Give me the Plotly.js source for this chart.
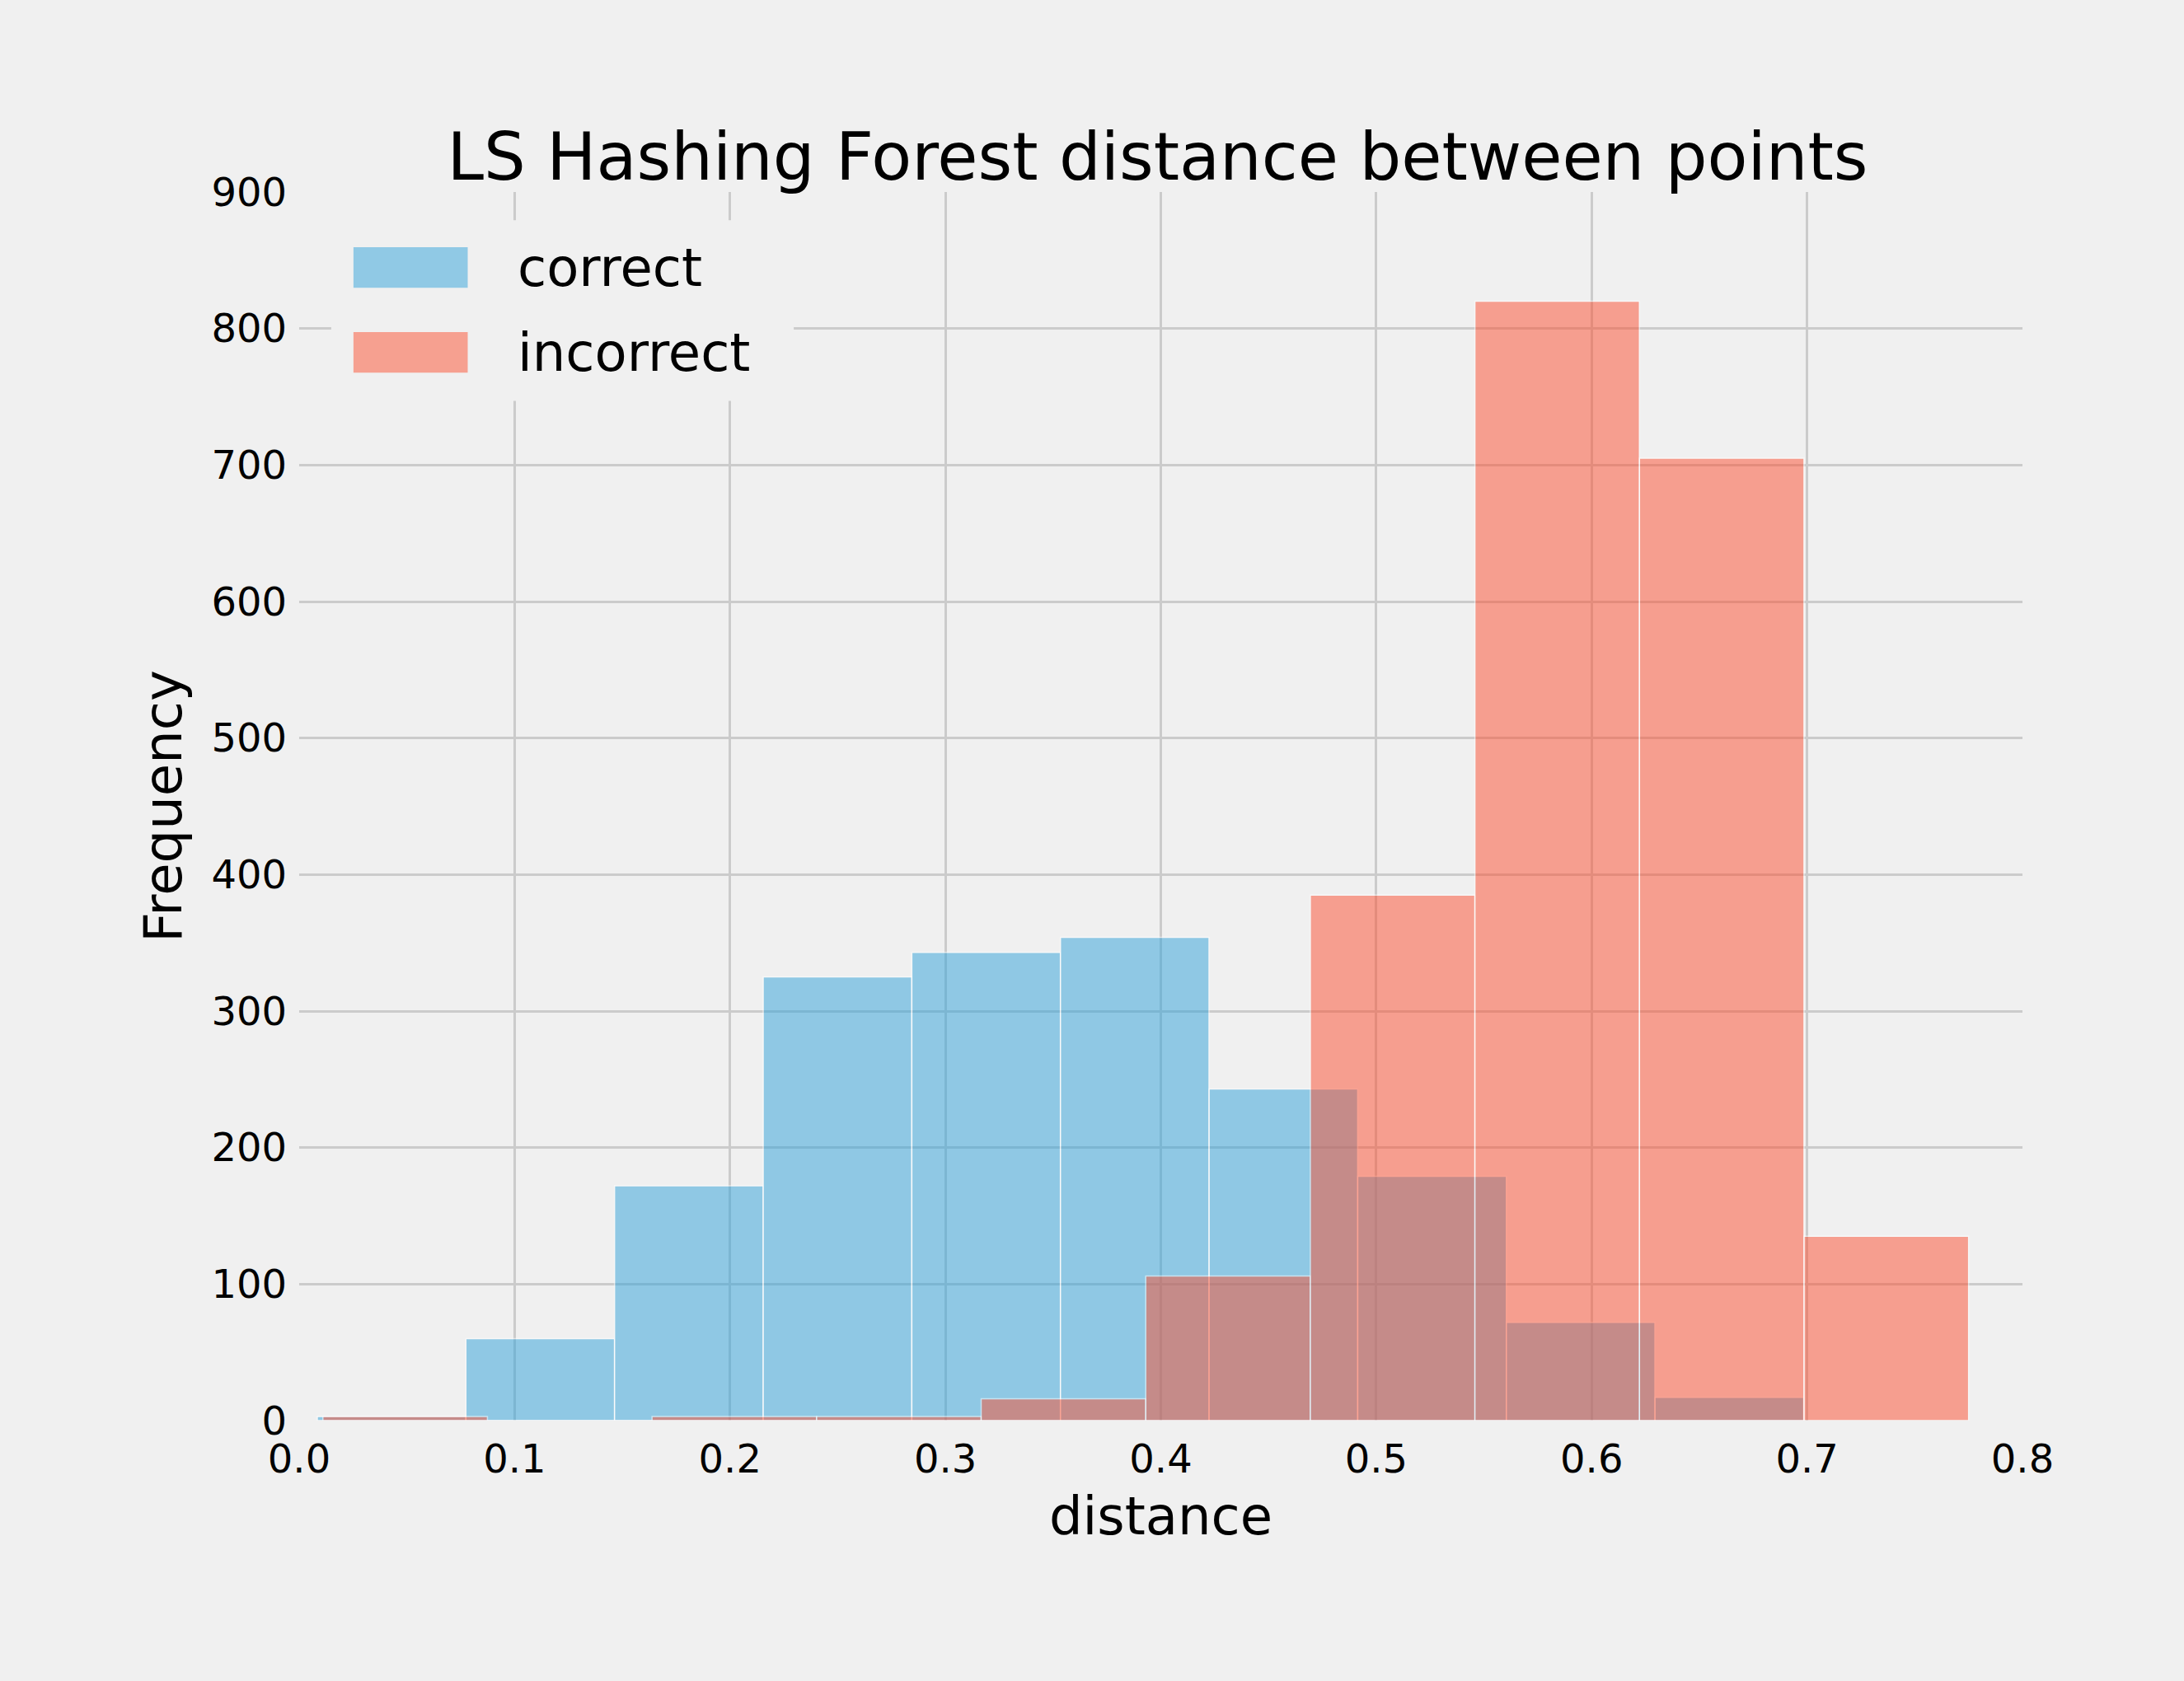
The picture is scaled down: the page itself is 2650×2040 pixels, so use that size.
<!DOCTYPE html>
<html><head><meta charset="utf-8">
<script src="https://cdn.plot.ly/plotly-3.0.1.min.js"></script>
<style>body{margin:0;background:#f0f0f0}</style></head>
<body><div id="c" style="width:2650px;height:2040px"></div>
<script>
const correctEdges = [0.0084,0.0774,0.1464,0.2154,0.2844,0.3534,0.4224,0.4914,0.5604,0.6294,0.6984];
const correctCounts = [3,60,172,325,343,354,243,179,72,17];
const incorrectEdges = [0.011,0.0874,0.1638,0.2402,0.3166,0.393,0.4694,0.5458,0.6222,0.6986,0.775];
const incorrectCounts = [3,0,3,3,16,106,385,820,705,135];
const seriesNames = ['correct','incorrect'];
const blue='#30a2da', red='#fc4f30';

function mk(edges, counts, name, color){
  const x=[], w=[];
  for(let i=0;i<counts.length;i++){x.push((edges[i]+edges[i+1])/2); w.push(edges[i+1]-edges[i]);}
  return {type:'bar', x:x, y:counts, width:w, name:name, showlegend:false,
    marker:{color:color, opacity:0.5, line:{color:'#ffffff', width:1.5}}};
}
const data=[mk(correctEdges,correctCounts,seriesNames[0],blue),
            mk(incorrectEdges,incorrectCounts,seriesNames[1],red)];
const font='DejaVu Sans';
const rect=(x0,x1,y0,y1,c)=>({type:'rect',xref:'paper',yref:'paper',x0,x1,y0,y1,fillcolor:c,line:{width:0},layer:'above'});
const layout={
  paper_bgcolor:'#f0f0f0', plot_bgcolor:'#f0f0f0', barmode:'overlay',
  font:{family:font,color:'#000'},
  margin:{l:363,r:196,t:233,b:316},
  title:{text:'LS Hashing Forest distance between points', font:{size:80,family:font}, x:0.53, xanchor:'center', y:0.907, yanchor:'middle'},
  xaxis:{range:[0,0.8], dtick:0.1, tickformat:'.1f', showgrid:true, gridcolor:'#cbcbcb', gridwidth:3, zeroline:false, showline:false,
    tickfont:{size:48}, ticklen:0, ticklabelstandoff:14, title:{text:'distance', font:{size:64}, standoff:20}},
  yaxis:{range:[0,900], dtick:100, showgrid:true, gridcolor:'#cbcbcb', gridwidth:3, zeroline:false, showline:false,
    tickfont:{size:48}, ticks:'', ticklen:0, ticklabelstandoff:14, title:{text:'Frequency', font:{size:64}, standoff:14}},
  showlegend:false,
  shapes:[
    rect(0.0186,0.287,0.83,0.977,'#f0f0f0'),
    rect(0.0315,0.0978,0.922,0.955,'#90c9e5'),
    rect(0.0315,0.0978,0.853,0.886,'#f6a090')
  ],
  annotations:[
    {xref:'paper',yref:'paper',x:0.126,y:0.9385,xanchor:'left',yanchor:'middle',text:seriesNames[0],showarrow:false,font:{size:64}},
    {xref:'paper',yref:'paper',x:0.126,y:0.8695,xanchor:'left',yanchor:'middle',text:seriesNames[1],showarrow:false,font:{size:64}}
  ]
};
Plotly.newPlot('c',data,layout,{displayModeBar:false});
</script></body></html>
